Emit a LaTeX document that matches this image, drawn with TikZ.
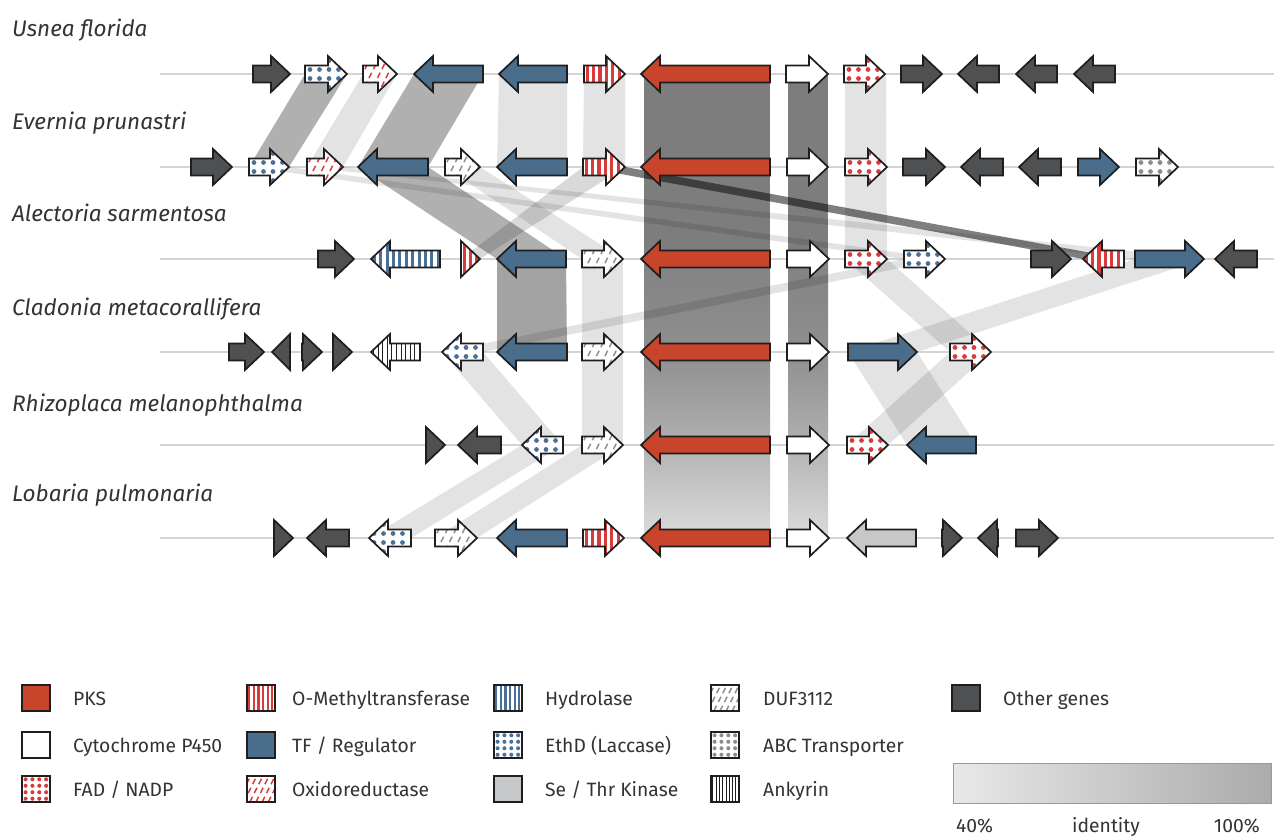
\documentclass[tikz,border=0pt]{standalone}
\usepackage{fontspec}
\setmainfont{Fira Sans}
\definecolor{pksred}{HTML}{C8442B}
\definecolor{tfblue}{HTML}{4A6D8C}
\definecolor{darkg}{HTML}{4E5052}
\definecolor{kin}{HTML}{C6C7C9}
\definecolor{patred}{HTML}{D93A3A}
\definecolor{patblue}{HTML}{4A7098}
\definecolor{patgray}{HTML}{8C8C8C}
\definecolor{lineg}{HTML}{D4D4D4}
\definecolor{outl}{HTML}{1E1E1E}
\definecolor{txt}{HTML}{333333}
% ---------- pattern fills (drawn inside a clip) ----------
\newcommand\pat[5]{\csname pat#1\endcsname{#2}{#3}{#4}{#5}}
\newcommand\solidpat[4]{\fill[#1] (#2-2,#4-25) rectangle (#3+2,#4+25);}
\newcommand\patpks[4]{\solidpat{pksred}{#1}{#2}{#3}}
\newcommand\patpfour[4]{\solidpat{white}{#1}{#2}{#3}}
\newcommand\patdark[4]{\solidpat{darkg}{#1}{#2}{#3}}
\newcommand\pattf[4]{\solidpat{tfblue}{#1}{#2}{#3}}
\newcommand\patkin[4]{\solidpat{kin}{#1}{#2}{#3}}
\newcommand\dotpat[5]{%
  \solidpat{white}{#2}{#3}{#4}%
  \pgfmathsetmacro\dA{#2+5*#5}\pgfmathsetmacro\dB{#2+14.5*#5}\pgfmathsetmacro\dR{2.4*sqrt(#5)}%
  \foreach \xx in {\dA,\dB,...,#3}{\foreach \yy in {-2.5,-1.5,-0.5,0.5,1.5,2.5}{\fill[#1] (\xx,{#4+\yy*9*#5}) circle[radius=\dR pt];}}}
\newcommand\patfad[4]{\dotpat{patred}{#1}{#2}{#3}{#4}}
\newcommand\patethd[4]{\dotpat{patblue}{#1}{#2}{#3}{#4}}
\newcommand\patabc[4]{\dotpat{patgray}{#1}{#2}{#3}{#4}}
\newcommand\stripepat[6]{%
  \solidpat{white}{#2}{#3}{#4}%
  \pgfmathsetmacro\sA{#2+#5/2}\pgfmathsetmacro\sB{#2+1.5*#5}%
  \foreach \xx in {\sA,\sB,...,#3}{\fill[#1] (\xx-#6/2,#4-25) rectangle (\xx+#6/2,#4+25);}}
\newcommand\patomt[4]{\stripepat{patred}{#1}{#2}{#3}{6.4*#4}{3.2*#4}}
\newcommand\pathyd[4]{\stripepat{patblue}{#1}{#2}{#3}{6.4*#4}{3*#4}}
\newcommand\patank[4]{\stripepat{outl}{#1}{#2}{#3}{4.6*#4}{0.8}}
\newcommand\diagpat[5]{%
  \solidpat{white}{#2}{#3}{#4}%
  \pgfmathsetmacro\sA{#2-20}\pgfmathsetmacro\sB{#2-20+8.5*#5}%
  \foreach \xx in {\sA,\sB,...,#3}{\draw[#1,line width=1.5pt,dash pattern=on 6pt off 4pt] (\xx,#4+22) -- (\xx+22,#4-22);}}
\newcommand\patoxi[4]{\diagpat{patred}{#1}{#2}{#3}{#4}}
\newcommand\patduf[4]{\diagpat{patgray}{#1}{#2}{#3}{#4}}
% ---------- a gene arrow: x1 x2 y dir kind ----------
\newcommand\gene[5]{%
  \pgfmathsetmacro\gH{min(19,#2-#1)}%
  \pgfmathsetmacro\gTa{#3-8.5}\pgfmathsetmacro\gTb{#3+8.5}%
  \pgfmathsetmacro\gHa{#3-18}\pgfmathsetmacro\gHb{#3+18}%
  \if R#4%
    \pgfmathsetmacro\gB{#2-\gH}%
    \def\gp{(#1,\gTa) -- (\gB,\gTa) -- (\gB,\gHa) -- (#2,#3) -- (\gB,\gHb) -- (\gB,\gTb) -- (#1,\gTb) -- cycle}%
  \else
    \pgfmathsetmacro\gB{#1+\gH}%
    \def\gp{(#2,\gTa) -- (\gB,\gTa) -- (\gB,\gHa) -- (#1,#3) -- (\gB,\gHb) -- (\gB,\gTb) -- (#2,\gTb) -- cycle}%
  \fi
  \begin{scope}\clip \gp; \pat{#5}{#1}{#2}{#3}{1}\end{scope}%
  \draw[geneline] \gp;}
% ---------- a homology band ----------
\newcommand\band[7]{\fill[black,opacity=#7] (#1,#3) -- (#2,#3) -- (#5,#6) -- (#4,#6) -- cycle;}
% ---------- legend swatch ----------
\newcommand\swatch[3]{%
  \pgfmathsetmacro\swR{#1+28}\pgfmathsetmacro\swB{#2+26}\pgfmathsetmacro\swC{#2+13}%
  \begin{scope}\clip (#1,#2) rectangle (\swR,\swB); \pat{#3}{#1}{\swR}{\swC}{0.72}\end{scope}%
  \draw[geneline] (#1,#2) rectangle (\swR,\swB);}
\tikzset{
  geneline/.style={outl,line width=1.7pt,line join=miter},
  backbone/.style={lineg,line width=1.2pt},
  species/.style={anchor=base west,inner sep=0pt,text=txt,font=\fontsize{22.5}{26}\selectfont\itshape},
  legtext/.style={anchor=base west,inner sep=0pt,text=txt,font=\fontsize{19.3}{22}\selectfont},
}
\def\Lo{0.11}\def\Me{0.31}\def\Da{0.5}
\begin{document}
\begin{tikzpicture}[x=1pt,y=-1pt]
\useasboundingbox (0,0) rectangle (1274,838);
% species names
\node[species] (sp1) at (12,36) {Usnea florida};
\node[species] (sp2) at (12,129) {Evernia prunastri};
\node[species] (sp3) at (12,221) {Alectoria sarmentosa};
\node[species] (sp4) at (12,315) {Cladonia metacorallifera};
\node[species] (sp5) at (12,411) {Rhizoplaca melanophthalma};
\node[species] (sp6) at (12,501) {Lobaria pulmonaria};
% backbones
\foreach \yy in {74,167,259,352,445,538} \draw[backbone] (160,\yy) -- (1274,\yy);
% PKS and P450 bands (identity shading)
\foreach \xa/\xb in {644/770,788/828}{
  \fill[black!51] (\xa,74) rectangle (\xb,259);
  \shade[top color=black!49,bottom color=black!44] (\xa,259) rectangle (\xb,352);
  \shade[top color=black!44,bottom color=black!31] (\xa,352) rectangle (\xb,445);
  \shade[top color=black!30,bottom color=black!14] (\xa,445) rectangle (\xb,538);
}
% row 1 -> row 2
\band{305}{347}{74}{249}{289}{167}{\Me}
\band{363}{397}{74}{307}{343}{167}{\Lo}
\band{414}{483}{74}{358}{428}{167}{\Me}
\band{499}{567}{74}{497}{567}{167}{\Lo}
\band{584}{625}{74}{583}{625}{167}{\Lo}
\band{845}{886}{74}{845}{887}{259}{\Lo}
% row 2 -> row 3
\band{358}{428}{167}{497}{566}{259}{\Me}
\band{445}{480}{167}{582}{623}{259}{\Lo}
\band{583}{625}{167}{461}{480}{259}{0.15}
\band{583}{625}{167}{1083}{1124}{259}{\Da}
\band{249}{289}{167}{904}{945}{259}{\Lo}
\band{307}{343}{167}{1135}{1204}{259}{\Lo}
% row 3 -> row 4
\band{497}{566}{259}{497}{567}{352}{0.36}
\band{582}{623}{259}{582}{623}{352}{\Lo}
\band{904}{945}{259}{442}{483}{352}{\Lo}
\band{845}{887}{259}{950}{991}{352}{\Lo}
\band{1135}{1204}{259}{848}{917}{352}{\Lo}
% row 4 -> row 5
\band{442}{483}{352}{522}{563}{445}{\Lo}
\band{582}{623}{352}{582}{623}{445}{\Lo}
\band{848}{917}{352}{907}{976}{445}{\Lo}
\band{950}{991}{352}{847}{888}{445}{\Lo}
% row 5 -> row 6
\band{522}{563}{445}{369}{411}{538}{\Lo}
\band{582}{623}{445}{435}{477}{538}{\Lo}
% ---------- genes ----------
% Usnea florida
\gene{253}{290}{74}{R}{dark}
\gene{305}{347}{74}{R}{ethd}
\gene{363}{397}{74}{R}{oxi}
\gene{414}{483}{74}{L}{tf}
\gene{499}{567}{74}{L}{tf}
\gene{584}{625}{74}{R}{omt}
\gene{641}{770}{74}{L}{pks}
\gene{786}{828}{74}{R}{pfour}
\gene{844}{885}{74}{R}{fad}
\gene{901}{942}{74}{R}{dark}
\gene{958}{999}{74}{L}{dark}
\gene{1016}{1057}{74}{L}{dark}
\gene{1074}{1115}{74}{L}{dark}
% Evernia prunastri
\gene{191}{232}{167}{R}{dark}
\gene{249}{289}{167}{R}{ethd}
\gene{307}{343}{167}{R}{oxi}
\gene{358}{428}{167}{L}{tf}
\gene{445}{480}{167}{R}{duf}
\gene{497}{567}{167}{L}{tf}
\gene{583}{625}{167}{R}{omt}
\gene{641}{770}{167}{L}{pks}
\gene{787}{828}{167}{R}{pfour}
\gene{845}{887}{167}{R}{fad}
\gene{903}{945}{167}{R}{dark}
\gene{961}{1003}{167}{L}{dark}
\gene{1019}{1061}{167}{L}{dark}
\gene{1078}{1119}{167}{R}{tf}
\gene{1136}{1178}{167}{R}{abc}
% Alectoria sarmentosa
\gene{318}{354}{259}{R}{dark}
\gene{371}{440}{259}{L}{hyd}
\gene{461}{480}{259}{R}{omt}
\gene{497}{566}{259}{L}{tf}
\gene{582}{623}{259}{R}{duf}
\gene{641}{770}{259}{L}{pks}
\gene{787}{829}{259}{R}{pfour}
\gene{845}{887}{259}{R}{fad}
\gene{904}{945}{259}{R}{ethd}
\gene{1031}{1071}{259}{R}{dark}
\gene{1083}{1124}{259}{L}{omt}
\gene{1135}{1204}{259}{R}{tf}
\gene{1215}{1257}{259}{L}{dark}
% Cladonia metacorallifera
\gene{229}{264}{352}{R}{dark}
\gene{272}{290}{352}{L}{dark}
\gene{302}{322}{352}{R}{dark}
\gene{333}{352}{352}{R}{dark}
\gene{371}{420}{352}{L}{ank}
\gene{442}{483}{352}{L}{ethd}
\gene{497}{567}{352}{L}{tf}
\gene{582}{623}{352}{R}{duf}
\gene{641}{770}{352}{L}{pks}
\gene{787}{829}{352}{R}{pfour}
\gene{848}{917}{352}{R}{tf}
\gene{950}{991}{352}{R}{fad}
% Rhizoplaca melanophthalma
\gene{426}{445}{445}{R}{dark}
\gene{458}{501}{445}{L}{dark}
\gene{522}{563}{445}{L}{ethd}
\gene{582}{623}{445}{R}{duf}
\gene{641}{770}{445}{L}{pks}
\gene{787}{829}{445}{R}{pfour}
\gene{847}{888}{445}{R}{fad}
\gene{907}{976}{445}{L}{tf}
% Lobaria pulmonaria
\gene{274}{293}{538}{R}{dark}
\gene{307}{349}{538}{L}{dark}
\gene{369}{411}{538}{L}{ethd}
\gene{435}{477}{538}{R}{duf}
\gene{497}{567}{538}{L}{tf}
\gene{583}{624}{538}{R}{omt}
\gene{641}{770}{538}{L}{pks}
\gene{787}{829}{538}{R}{pfour}
\gene{847}{916}{538}{L}{kin}
\gene{942}{962}{538}{R}{dark}
\gene{978}{998}{538}{L}{dark}
\gene{1016}{1058}{538}{R}{dark}
% ---------- legend ----------
\swatch{22}{685}{pks}   \node[legtext] (lg1) at (73,705) {PKS};
\swatch{22}{732}{pfour} \node[legtext] (lg2) at (73,752) {Cytochrome P450};
\swatch{22}{776}{fad}   \node[legtext] (lg3) at (73,796) {FAD / NADP};
\swatch{247}{685}{omt}  \node[legtext] (lg4) at (292,705) {O-Methyltransferase};
\swatch{247}{732}{tf}   \node[legtext] (lg5) at (292,752) {TF / Regulator};
\swatch{247}{776}{oxi}  \node[legtext] (lg6) at (292,796) {Oxidoreductase};
\swatch{494}{685}{hyd}  \node[legtext] (lg7) at (545,705) {Hydrolase};
\swatch{494}{732}{ethd} \node[legtext] (lg8) at (545,752) {EthD (Laccase)};
\swatch{494}{776}{kin}  \node[legtext] (lg9) at (545,796) {Se / Thr Kinase};
\swatch{711}{685}{duf}  \node[legtext] (lg10) at (763,705) {DUF3112};
\swatch{711}{732}{abc}  \node[legtext] (lg11) at (763,752) {ABC Transporter};
\swatch{711}{776}{ank}  \node[legtext] (lg12) at (763,796) {Ankyrin};
\swatch{952}{685}{dark} \node[legtext] (lg13) at (1003,705) {Other genes};
% identity scale
\shade[left color=black!9,middle color=black!24,right color=black!33] (953,763) rectangle (1271,803);
\draw[black!40,line width=1pt] (953,763) rectangle (1271,803);
\node[legtext] (s40) at (956,832) {40\%};
\node[legtext,anchor=base] (sid) at (1106,832) {identity};
\node[legtext,anchor=base east] (s100) at (1260,832) {100\%};
\end{tikzpicture}
\end{document}
